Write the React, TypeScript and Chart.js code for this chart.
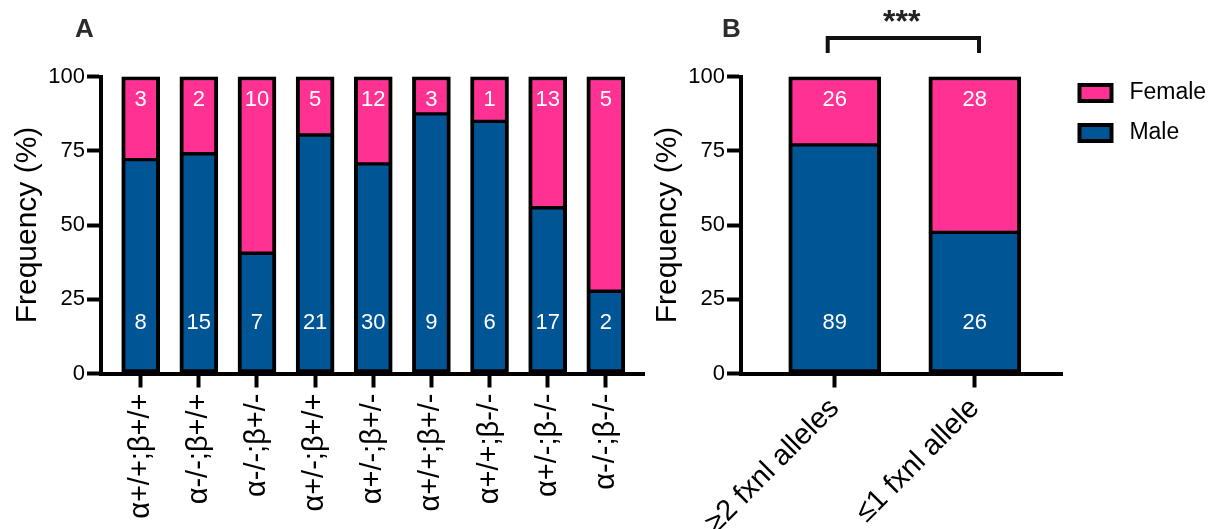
import React, { useEffect, useRef } from 'react';
import { Chart, registerables } from 'chart.js';

Chart.register(...registerables);

// ---------- data ----------
const genotypeLabels = ['α+/+;β+/+', 'α-/-;β+/+', 'α-/-;β+/-', 'α+/-;β+/+', 'α+/-;β+/-', 'α+/+;β+/-', 'α+/+;β-/-', 'α+/-;β-/-', 'α-/-;β-/-'];
const malePctA = [72, 74, 40.5, 80.3, 70.6, 87.4, 84.9, 55.8, 27.7];
const femalePctA = [28, 26, 59.5, 19.7, 29.4, 12.6, 15.1, 44.2, 72.3];
const maleCountA = [8, 15, 7, 21, 30, 9, 6, 17, 2];
const femaleCountA = [3, 2, 10, 5, 12, 3, 1, 13, 5];

const groupLabels = ['≥2 fxnl alleles', '≤1 fxnl allele'];
const malePctB = [77, 47.5];
const femalePctB = [23, 52.5];
const maleCountB = [89, 26];
const femaleCountB = [26, 28];

const seriesNames = ['Male', 'Female'];
const significance = '***';

// ---------- style ----------
const FONT = "'Liberation Sans', Arial, Helvetica, sans-serif";
const PINK = '#ff3193';
const BLUE = '#005595';
const BLACK = '#000';
Chart.defaults.font.family = FONT;

function countLabelsPlugin(male: number[], female: number[]) {
  return {
    id: 'countLabels',
    afterDatasetsDraw(chart: any) {
      const { ctx } = chart;
      const x = chart.scales.x;
      const y = chart.scales.y;
      ctx.save();
      ctx.fillStyle = '#fff';
      ctx.font = `22px ${FONT}`;
      ctx.textAlign = 'center';
      ctx.textBaseline = 'middle';
      male.forEach((c, i) => ctx.fillText(String(c), x.getPixelForValue(i), y.getPixelForValue(17)));
      female.forEach((c, i) => ctx.fillText(String(c), x.getPixelForValue(i), y.getPixelForValue(92)));
      ctx.restore();
    },
  };
}

function panelLetterPlugin(letter: string, px: number) {
  return {
    id: 'panelLetter',
    afterDraw(chart: any) {
      const { ctx } = chart;
      ctx.save();
      ctx.fillStyle = '#2b2b2b';
      ctx.font = `bold 26px ${FONT}`;
      ctx.textAlign = 'left';
      ctx.textBaseline = 'alphabetic';
      ctx.fillText(letter, px, 37);
      ctx.restore();
    },
  };
}

const bracketPlugin = {
  id: 'bracket',
  afterDraw(chart: any) {
    const { ctx } = chart;
    const x = chart.scales.x;
    const x1 = x.getPixelForValue(-0.05);
    const x2 = x.getPixelForValue(1.03);
    ctx.save();
    ctx.strokeStyle = '#111';
    ctx.lineWidth = 4;
    ctx.lineJoin = 'miter';
    ctx.beginPath();
    ctx.moveTo(x1, 53);
    ctx.lineTo(x1, 38);
    ctx.lineTo(x2, 38);
    ctx.lineTo(x2, 53);
    ctx.stroke();
    ctx.restore();
  },
};

// gives the legend a fixed width so the plot area and legend sit where the reference has them
const legendWidthPlugin = {
  id: 'legendWidth',
  beforeLayout(chart: any) {
    const lg = chart.legend;
    if (lg && !lg.__fixedWidth) {
      const orig = lg.fit.bind(lg);
      lg.fit = () => {
        orig();
        lg.width = 162;
      };
      lg.__fixedWidth = true;
    }
  },
};

function makeDatasets(male: number[], female: number[], thickness: number) {
  return [
    {
      label: seriesNames[0],
      data: male.map((v, i) => ({ x: i, y: v })),
      backgroundColor: BLUE,
      borderColor: BLACK,
      borderWidth: { top: 2, left: 4, right: 4, bottom: 4 },
      borderSkipped: false,
      barThickness: thickness,
    },
    {
      label: seriesNames[1],
      data: female.map((v, i) => ({ x: i, y: v })),
      backgroundColor: PINK,
      borderColor: BLACK,
      borderWidth: { top: 4, left: 4, right: 4, bottom: 2 },
      borderSkipped: false,
      barThickness: thickness,
    },
  ];
}

function yScale() {
  return {
    min: 0,
    max: 100,
    stacked: true,
    ticks: { stepSize: 25, padding: 2, color: BLACK, font: { size: 22 } },
    grid: { drawOnChartArea: false, drawTicks: true, tickLength: 14, tickWidth: 4, tickColor: BLACK },
    border: { display: true, color: BLACK, width: 4 },
    title: { display: true, text: 'Frequency (%)', color: BLACK, font: { size: 30 }, padding: { top: 10, bottom: 0 } },
    afterFit: (s: any) => { s.width = 101; },
  };
}

function xScale(labels: string[], min: number, max: number, rotation: number, fontSize: number, pad: number) {
  return {
    type: 'linear',
    min,
    max,
    bounds: 'data',
    stacked: true,
    offset: false,
    grid: { display: true, offset: false, drawOnChartArea: false, drawTicks: true, tickLength: 14, tickWidth: 4, tickColor: BLACK },
    border: { display: true, color: BLACK, width: 4 },
    afterBuildTicks: (s: any) => { s.ticks = labels.map((_, i) => ({ value: i })); },
    afterFit: (s: any) => { s.height = 155.5; },
    ticks: {
      autoSkip: false,
      minRotation: rotation,
      maxRotation: rotation,
      padding: pad,
      color: BLACK,
      font: { size: fontSize },
      callback: (v: number) => labels[v] ?? '',
    },
  };
}

function configA(): any {
  return {
    type: 'bar',
    data: { datasets: makeDatasets(malePctA, femalePctA, 38) },
    options: {
      responsive: false,
      animation: false,
      devicePixelRatio: 1,
      layout: { padding: { top: 76.5, left: 0, right: 6, bottom: 0 } },
      plugins: { legend: { display: false }, tooltip: { enabled: false } },
      scales: {
        x: xScale(genotypeLabels, -0.683, 8.657, 90, 29, 6),
        y: yScale(),
      },
    },
    plugins: [countLabelsPlugin(maleCountA, femaleCountA), panelLetterPlugin('A', 75)],
  };
}

function configB(): any {
  return {
    type: 'bar',
    data: { datasets: makeDatasets(malePctB, femalePctB, 92) },
    options: {
      responsive: false,
      animation: false,
      devicePixelRatio: 1,
      layout: { padding: { top: 0, left: 0, right: 0.5, bottom: 0 } },
      plugins: {
        tooltip: { enabled: false },
        title: {
          display: true,
          text: significance,
          fullSize: false,
          color: '#222',
          font: { size: 32, weight: 'bold' },
          padding: { top: 4.3, bottom: 33.8 },
        },
        legend: {
          display: true,
          position: 'right',
          align: 'start',
          title: { display: true, text: ' ', font: { size: 12 }, padding: { top: 50.1, bottom: 0 } },
          labels: {
            boxWidth: 32,
            boxHeight: 16,
            padding: 17,
            color: BLACK,
            font: { size: 23 },
            generateLabels: () => [
              { text: ' ' + seriesNames[1], fillStyle: PINK, strokeStyle: BLACK, lineWidth: 4, fontColor: BLACK, hidden: false, datasetIndex: 1 },
              { text: ' ' + seriesNames[0], fillStyle: BLUE, strokeStyle: BLACK, lineWidth: 4, fontColor: BLACK, hidden: false, datasetIndex: 0 },
            ],
          },
        },
      },
      scales: {
        x: xScale(groupLabels, -0.669, 1.626, 45, 29, 4),
        y: yScale(),
      },
    },
    plugins: [legendWidthPlugin, countLabelsPlugin(maleCountB, femaleCountB), panelLetterPlugin('B', 82), bracketPlugin],
  };
}

function ChartCanvas({ makeConfig, left, width }: { makeConfig: () => any; left: number; width: number }) {
  const ref = useRef<HTMLCanvasElement>(null);
  useEffect(() => {
    const chart = new Chart(ref.current as HTMLCanvasElement, makeConfig());
    return () => chart.destroy();
  }, []);
  return (
    <canvas
      ref={ref}
      width={width}
      height={529}
      style={{ position: 'absolute', left, top: 0, width, height: 529 }}
    />
  );
}

export default function App() {
  return (
    <div style={{ position: 'absolute', left: 0, top: 0, width: 1225, height: 529, background: '#fff', overflow: 'hidden' }}>
      <ChartCanvas makeConfig={configA} left={0} width={650} />
      <ChartCanvas makeConfig={configB} left={640} width={585} />
    </div>
  );
}
